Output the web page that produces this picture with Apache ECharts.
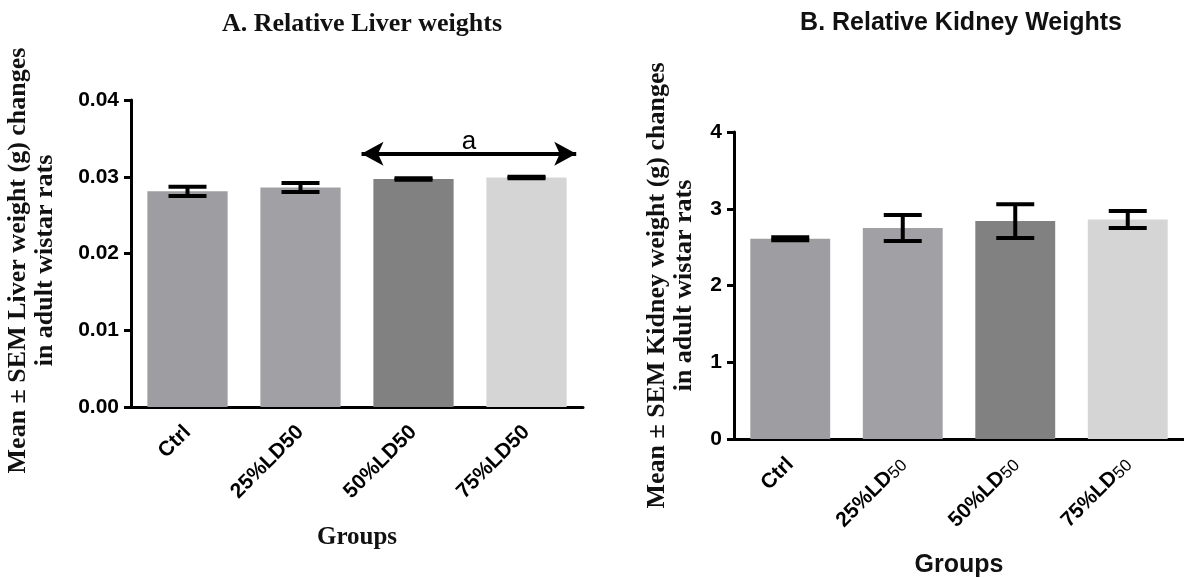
<!DOCTYPE html>
<html>
<head>
<meta charset="utf-8">
<script src="https://cdn.jsdelivr.net/npm/echarts@6/dist/echarts.min.js"></script>
<style>
html, body { margin: 0; padding: 0; background: #fff; }
#main { width: 1184px; height: 578px; }
</style>
</head>
<body>
<div id="main"></div>
<script>
// groups and values
var groups = ['Ctrl', '25%LD50', '50%LD50', '75%LD50'];
var liverMean = [0.0281, 0.0286, 0.0297, 0.0299];
var liverSem = [0.0006, 0.0006, 0.0001, 0.0001];
var kidneyMean = [2.61, 2.75, 2.84, 2.86];
var kidneySem = [0.02, 0.17, 0.22, 0.11];
var barColors = ['#9e9ea2', '#a1a1a5', '#818181', '#d5d5d5'];
// significance bracket "a" (50%LD50 .. 75%LD50)
var sigFrom = 2.04, sigTo = 3.94, sigLevel = 0.033;

var serif = "'Liberation Serif', 'Times New Roman', serif";
var sans = "'Liberation Sans', Arial, sans-serif";

function errData(mean, sem) {
    var out = [];
    for (var i = 0; i < mean.length; i++) {
        out.push([i, mean[i] - sem[i], mean[i] + sem[i]]);
    }
    return out;
}

function renderErr(params, api) {
    var x = api.value(0);
    var lo = api.coord([x, api.value(1)]);
    var hi = api.coord([x, api.value(2)]);
    var half = 19;
    var st = { stroke: '#000', lineWidth: 4 };
    return {
        type: 'group',
        children: [
            { type: 'line', shape: { x1: lo[0], y1: hi[1], x2: lo[0], y2: lo[1] }, style: st },
            { type: 'line', shape: { x1: lo[0] - half, y1: hi[1], x2: lo[0] + half, y2: hi[1] }, style: st },
            { type: 'line', shape: { x1: lo[0] - half, y1: lo[1], x2: lo[0] + half, y2: lo[1] }, style: st }
        ]
    };
}

function catAxis(gridIndex, rich) {
    return {
        type: 'category',
        gridIndex: gridIndex,
        data: groups,
        name: 'Groups',
        nameLocation: 'middle',
        nameGap: gridIndex == 0 ? 118 : 114,
        nameTextStyle: {
            fontFamily: gridIndex == 0 ? serif : sans,
            fontWeight: 'bold',
            fontSize: 25,
            color: '#111'
        },
        axisLine: { lineStyle: { color: '#000', width: 3 } },
        axisTick: { alignWithLabel: true, length: 7, lineStyle: { color: '#000', width: 3 } },
        axisLabel: {
            interval: 0,
            rotate: 45,
            margin: 22,
            fontFamily: sans,
            fontWeight: 'bold',
            fontSize: 21,
            color: '#000',
            formatter: rich ? function(v) {
                var m = v.match(/^(.*LD)(50)$/);
                return m ? m[1] + '{sub|' + m[2] + '}' : v;
            } : null,
            rich: rich ? {
                sub: { fontFamily: sans, fontWeight: 'normal', fontSize: 17, color: '#000', verticalAlign: 'bottom', padding: [5, 0, 0, 0] }
            } : undefined
        }
    };
}

function valAxis(gridIndex, max, interval, digits, name, gap, pad) {
    return {
        type: 'value',
        gridIndex: gridIndex,
        min: 0,
        max: max,
        interval: interval,
        splitLine: { show: false },
        axisLine: { show: true, lineStyle: { color: '#000', width: 3 } },
        axisTick: { show: true, length: 7, lineStyle: { color: '#000', width: 3 } },
        axisLabel: {
            margin: 12,
            fontFamily: sans,
            fontWeight: 'bold',
            fontSize: 21,
            color: '#000',
            formatter: function(v) { return v.toFixed(digits); }
        },
        name: name,
        nameLocation: 'middle',
        nameRotate: 90,
        nameGap: gap,
        nameTextStyle: {
            fontFamily: serif,
            fontWeight: 'bold',
            fontSize: 26,
            lineHeight: 27,
            color: '#111',
            align: 'center',
            padding: pad
        }
    };
}

var option = {
    backgroundColor: '#fff',
    animation: false,
    title: [{
        text: 'A. Relative Liver weights',
        left: 357,
        top: 6,
        textAlign: 'center',
        textStyle: { fontFamily: serif, fontWeight: 'bold', fontSize: 26, color: '#111' }
    }, {
        text: 'B. Relative Kidney Weights',
        left: 956,
        top: 6,
        textAlign: 'center',
        textStyle: { fontFamily: sans, fontWeight: 'bold', fontSize: 25, color: '#111' }
    }],
    grid: [
        { left: 131, top: 100, width: 452, height: 307, outerBoundsMode: 'none' },
        { left: 734, top: 132, width: 450, height: 307, outerBoundsMode: 'none' }
    ],
    xAxis: [
        catAxis(0, false),
        catAxis(1, true),
        { type: 'value', gridIndex: 0, min: 0, max: 4, show: false }
    ],
    yAxis: [
        valAxis(0, 0.04, 0.01, 2, 'Mean \u00b1 SEM Liver weight (g) changes\nin adult wistar rats', 72, [0, 14, 0, 0]),
        valAxis(1, 4, 1, 0, 'Mean \u00b1 SEM Kidney weight (g) changes\nin adult wistar rats', 36, 0)
    ],
    series: [{
        type: 'bar',
        xAxisIndex: 0,
        yAxisIndex: 0,
        data: liverMean,
        barCategoryGap: '29%',
        itemStyle: { color: function(p) { return barColors[p.dataIndex]; } }
    }, {
        type: 'custom',
        xAxisIndex: 0,
        yAxisIndex: 0,
        data: errData(liverMean, liverSem),
        renderItem: renderErr,
        z: 5
    }, {
        type: 'bar',
        xAxisIndex: 1,
        yAxisIndex: 1,
        data: kidneyMean,
        barCategoryGap: '29%',
        itemStyle: { color: function(p) { return barColors[p.dataIndex]; } }
    }, {
        type: 'custom',
        xAxisIndex: 1,
        yAxisIndex: 1,
        data: errData(kidneyMean, kidneySem),
        renderItem: renderErr,
        z: 5
    }, {
        type: 'scatter',
        xAxisIndex: 2,
        yAxisIndex: 0,
        data: [],
        markLine: {
            silent: true,
            symbol: ['arrow', 'arrow'],
            symbolSize: [18, 22],
            lineStyle: { color: '#000', width: 4, type: 'solid' },
            label: {
                show: true,
                position: 'insideMiddleTop',
                distance: -1,
                formatter: 'a',
                fontFamily: sans,
                fontSize: 26,
                color: '#000'
            },
            data: [[{ coord: [sigFrom, sigLevel] }, { coord: [sigTo, sigLevel] }]]
        }
    }]
};

var myChart = echarts.init(document.getElementById('main'));
myChart.setOption(option);
</script>
</body>
</html>
